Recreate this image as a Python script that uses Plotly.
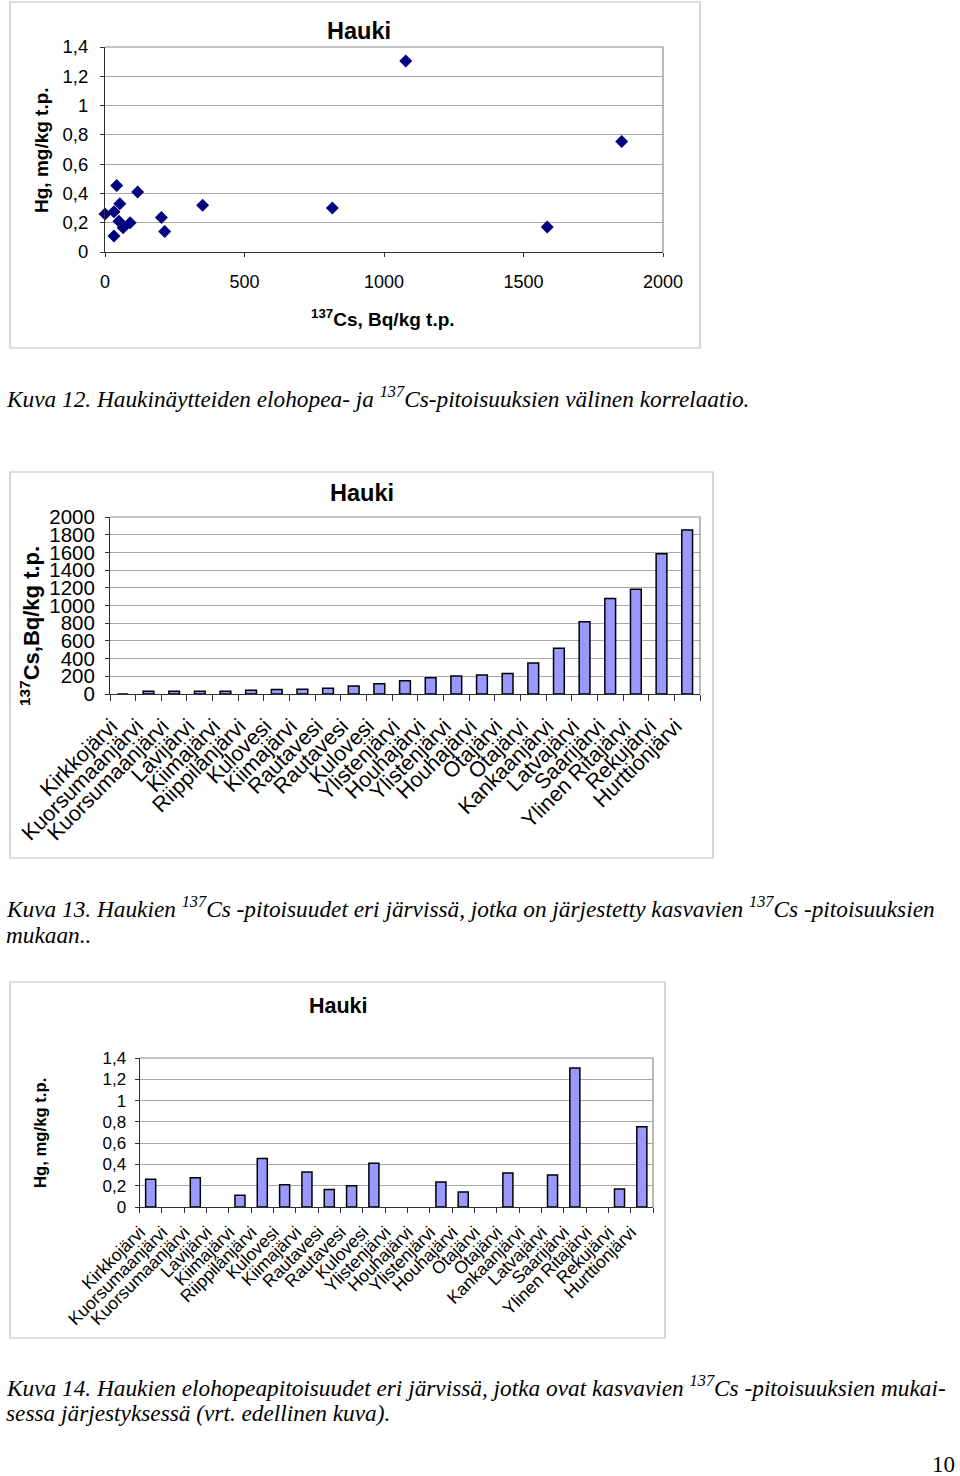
import plotly.graph_objects as go

# ---------------- data ----------------
lakes = ["Kirkkojärvi", "Kuorsumaanjärvi", "Kuorsumaanjärvi", "Lavijärvi", "Kiimajärvi",
         "Riippilänjärvi", "Kulovesi", "Kiimajärvi", "Rautavesi", "Rautavesi", "Kulovesi",
         "Ylistenjärvi", "Houhajärvi", "Ylistenjärvi", "Houhajärvi", "Otajärvi", "Otajärvi",
         "Kankaanjärvi", "Latvajärvi", "Saarijärvi", "Ylinen Ritajärvi", "Rekujärvi",
         "Hurttionjärvi"]
cs_values = [0, 30, 32, 30, 32, 42, 50, 53, 65, 90, 117, 150, 185, 202, 214, 232,
             350, 517, 815, 1078, 1185, 1585, 1852]
hg_values = [0.26, None, 0.275, None, 0.11, 0.455, 0.21, 0.33, 0.165, 0.20, 0.41, None,
             None, 0.235, 0.14, None, 0.32, None, 0.30, 1.305, None, 0.17, 0.755]

hg_tickvals = [0, 0.2, 0.4, 0.6, 0.8, 1.0, 1.2, 1.4]
hg_ticktext = ["0", "0,2", "0,4", "0,6", "0,8", "1", "1,2", "1,4"]
cs_ticks_scatter = [0, 500, 1000, 1500, 2000]
cs_ticks_bar = [0, 200, 400, 600, 800, 1000, 1200, 1400, 1600, 1800, 2000]

# ---------------- geometry helpers ----------------
W, H = 960, 1476


def px(x):
    return x / W


def py(y):
    return 1 - y / H


SANS = "Liberation Sans, Arial, sans-serif"
SERIF = "Liberation Serif, Times New Roman, serif"
GRID = "#A8A8A8"
BORDER = "#8C8C8C"
AXIS = "#303030"
FRAME = "#BDBDBD"
BAR_FILL = "#9999FF"

idx = list(range(len(lakes)))
pairs = [(c, h) for c, h in zip(cs_values, hg_values) if h is not None]
sc_x = [p[0] for p in pairs]
sc_y = [p[1] for p in pairs]

# label anchor shift (in category units) so rotated labels end left of the category centre
lab2 = [i - 0.45 for i in idx]
lab3 = [i - 0.48 for i in idx]

fig = go.Figure()

fig.add_trace(go.Scatter(x=sc_x, y=sc_y, mode="markers", xaxis="x", yaxis="y",
                         marker=dict(symbol="diamond", size=10, color="#000080"),
                         cliponaxis=False, showlegend=False))
fig.add_trace(go.Bar(x=idx, y=cs_values, xaxis="x2", yaxis="y2",
                     marker=dict(color=BAR_FILL, line=dict(color="#000000", width=1.5)),
                     width=0.42, showlegend=False))
fig.add_trace(go.Bar(x=idx, y=hg_values, xaxis="x3", yaxis="y3",
                     marker=dict(color=BAR_FILL, line=dict(color="#000000", width=1.5)),
                     width=0.45, showlegend=False))

# chart boxes (plot areas)
c1 = dict(l=105, r=663, t=47, b=252)
c2 = dict(l=110, r=700, t=517, b=694)
c3 = dict(l=139.5, r=653, t=1058, b=1207)

common_x = dict(showgrid=False, zeroline=False, showline=True, linecolor=AXIS,
                linewidth=1, ticks="outside", tickcolor=AXIS, fixedrange=True,
                automargin=False)
common_y = dict(showgrid=True, gridcolor=GRID, gridwidth=1, zeroline=False,
                showline=True, linecolor=AXIS, linewidth=1, ticks="outside",
                tickcolor=AXIS, ticklen=4, fixedrange=True, automargin=False)

fig.update_layout(
    template="none",
    width=W, height=H, margin=dict(l=0, r=0, t=0, b=0, pad=0, autoexpand=False),
    paper_bgcolor="white", plot_bgcolor="rgba(0,0,0,0)",
    font=dict(family=SANS, color="#000000"),
    bargap=0.55,
    xaxis=dict(common_x, domain=[px(c1["l"]), px(c1["r"])], range=[0, 2000],
               tickmode="array", tickvals=cs_ticks_scatter, ticklen=4,
               tickfont=dict(size=18), ticklabelstandoff=9, anchor="y"),
    yaxis=dict(common_y, domain=[py(c1["b"]), py(c1["t"])], range=[0, 1.4],
               tickmode="array", tickvals=hg_tickvals, ticktext=hg_ticktext,
               tickfont=dict(size=18.5), ticklabelstandoff=8, anchor="x"),
    xaxis2=dict(common_x, domain=[px(c2["l"]), px(c2["r"])], range=[-0.5, len(lakes) - 0.5],
                tickmode="array", tickvals=lab2, ticktext=lakes, tickangle=-45, ticklen=0,
                ticks="", tickfont=dict(size=21.5), ticklabelstandoff=10,
                minor=dict(tick0=-0.5, dtick=1, ticks="outside", ticklen=6, tickcolor=AXIS),
                anchor="y2"),
    yaxis2=dict(common_y, domain=[py(c2["b"]), py(c2["t"])], range=[0, 2000],
                tickmode="array", tickvals=cs_ticks_bar, tickfont=dict(size=20.5),
                ticklabelstandoff=6, anchor="x2"),
    xaxis3=dict(common_x, domain=[px(c3["l"]), px(c3["r"])], range=[-0.5, len(lakes) - 0.5],
                tickmode="array", tickvals=lab3, ticktext=lakes, tickangle=-45, ticklen=0,
                ticks="", tickfont=dict(size=17.5), ticklabelstandoff=7,
                minor=dict(tick0=-0.5, dtick=1, ticks="outside", ticklen=5, tickcolor=AXIS),
                anchor="y3"),
    yaxis3=dict(common_y, domain=[py(c3["b"]), py(c3["t"])], range=[0, 1.4],
                tickmode="array", tickvals=hg_tickvals, ticktext=hg_ticktext,
                tickfont=dict(size=17), ticklabelstandoff=5, anchor="x3"),
)

shapes = []
# outer frames
for (x0, y0, x1, y1) in [(10, 2, 700, 348), (10, 472, 713, 858), (10, 982, 665, 1338)]:
    shapes.append(dict(type="rect", xref="paper", yref="paper",
                       x0=px(x0), x1=px(x1), y0=py(y1), y1=py(y0),
                       line=dict(color=FRAME, width=1.2), fillcolor="rgba(0,0,0,0)"))
# top and right border of plot areas
for c in (c1, c2, c3):
    shapes.append(dict(type="path", xref="paper", yref="paper",
                       path=f"M {px(c['l'])},{py(c['t'])} L {px(c['r'])},{py(c['t'])} "
                            f"L {px(c['r'])},{py(c['b'])}",
                       line=dict(color=BORDER, width=1.2)))
fig.update_layout(shapes=shapes)

ann = []


def text(x, y, s, size, bold=False, family=SANS, xanchor="center", angle=0):
    if bold:
        s = f"<b>{s}</b>"
    ann.append(dict(x=px(x), y=py(y), xref="paper", yref="paper", text=s, showarrow=False,
                    xanchor=xanchor, yanchor="middle", textangle=angle,
                    font=dict(family=family, size=size, color="#000000")))


# chart 1
text(359, 31, "Hauki", 23.5, bold=True)
text(42, 150, "Hg, mg/kg t.p.", 19, bold=True, angle=-90)
text(383, 318, "<sup>137</sup>Cs, Bq/kg t.p.", 19, bold=True)
# chart 2
text(362, 493, "Hauki", 23.5, bold=True)
text(30, 626, "<sup>137</sup>Cs,Bq/kg t.p.", 22, bold=True, angle=-90)
# chart 3
text(338, 1006, "Hauki", 21.5, bold=True)
text(40, 1133, "Hg, mg/kg t.p.", 16.7, bold=True, angle=-90)

# captions
CAP = 23.3
text(4, 397, "<i>Kuva 12. Haukinäytteiden elohopea- ja <sup>137</sup>Cs-pitoisuuksien välinen korrelaatio.</i>",
     CAP, family=SERIF, xanchor="left")
text(4, 907, "<i>Kuva 13. Haukien <sup>137</sup>Cs -pitoisuudet eri järvissä, jotka on järjestetty kasvavien <sup>137</sup>Cs -pitoisuuksien</i>",
     CAP, family=SERIF, xanchor="left")
text(4, 935, "<i>mukaan..</i>", CAP, family=SERIF, xanchor="left")
text(4, 1386, "<i>Kuva 14. Haukien elohopeapitoisuudet eri järvissä, jotka ovat kasvavien <sup>137</sup>Cs -pitoisuuksien mukai-</i>",
     CAP, family=SERIF, xanchor="left")
text(4, 1413, "<i>sessa järjestyksessä (vrt. edellinen kuva).</i>", CAP, family=SERIF, xanchor="left")
text(957, 1464, "10", 23, family=SERIF, xanchor="right")

fig.update_layout(annotations=ann)

fig.write_html("out.html", config={"displayModeBar": False},
               post_script="document.body.style.margin='0';document.body.style.overflow='hidden';")
